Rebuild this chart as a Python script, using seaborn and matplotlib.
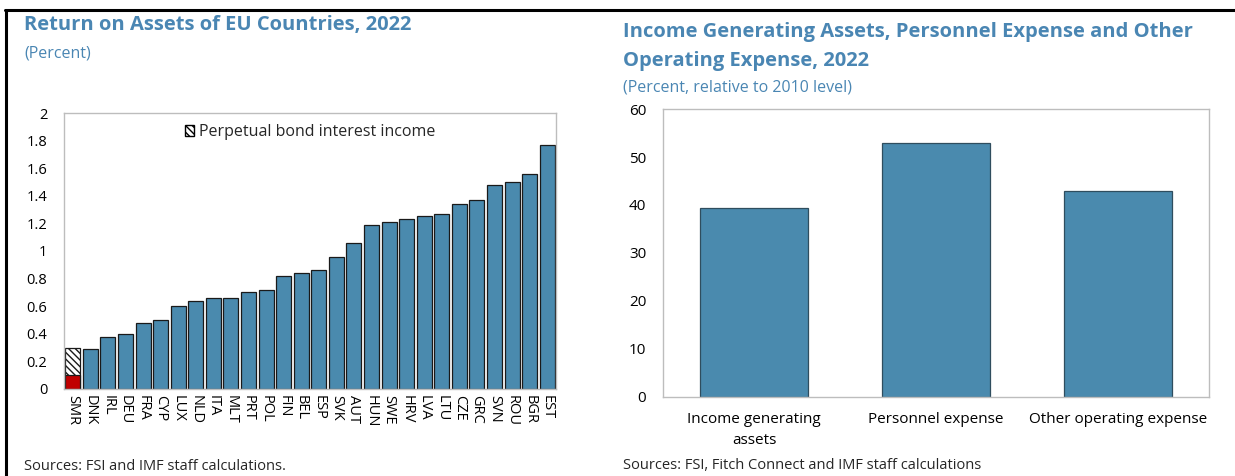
import numpy as np
import pandas as pd
import matplotlib
matplotlib.use("Agg")
import matplotlib.pyplot as plt
from matplotlib.patches import Patch
from matplotlib.lines import Line2D
from matplotlib.ticker import FuncFormatter, FixedLocator
import seaborn as sns

# Left panel: return on assets by country (percent)
countries = ["SMR", "DNK", "IRL", "DEU", "FRA", "CYP", "LUX", "NLD", "ITA", "MLT",
             "PRT", "POL", "FIN", "BEL", "ESP", "SVK", "AUT", "HUN", "SWE", "HRV",
             "LVA", "LTU", "CZE", "GRC", "SVN", "ROU", "BGR", "EST"]
roa = [0.30, 0.29, 0.38, 0.40, 0.48, 0.50, 0.60, 0.64, 0.66, 0.66,
       0.70, 0.72, 0.82, 0.84, 0.86, 0.96, 1.06, 1.19, 1.21, 1.23,
       1.25, 1.27, 1.34, 1.37, 1.48, 1.50, 1.56, 1.77]
smr_core = [0.10]          # SMR ROA without perpetual bond interest income
# Right panel: growth relative to 2010 (percent)
items = ["Income generating\nassets", "Personnel expense", "Other operating expense"]
growth = [39.3, 53.0, 43.0]

BLUE = "#4a8aae"
TITLE = "#4a86b3"
RED = "#c00000"
SPINE = "#bdbdbd"
HATCH = "\\\\\\\\\\"

sns.set_theme(style="white")
plt.rcParams["font.family"] = ["Open Sans", "DejaVu Sans"]
plt.rcParams["hatch.linewidth"] = 1.0

fig = plt.figure(figsize=(12.35, 4.76), dpi=100)
ax1 = fig.add_axes([0.0518, 0.1828, 0.3984, 0.5798])
ax2 = fig.add_axes([0.5368, 0.166, 0.4421, 0.605])

# --- left chart
df = pd.DataFrame({"country": countries, "roa": roa})
colors = ["white"] + [BLUE] * (len(countries) - 1)
sns.barplot(data=df, x="country", y="roa", hue="country", palette=colors,
            order=countries, width=0.85, edgecolor="#1a1a1a", linewidth=0.9,
            legend=False, ax=ax1)
ax1.patches[0].set_hatch(HATCH)
core = pd.DataFrame({"country": countries[:1], "roa": smr_core})
sns.barplot(data=core, x="country", y="roa", order=countries, color=RED,
            saturation=1, width=0.85, edgecolor="#1a1a1a", linewidth=0.9, ax=ax1)
for p in ax1.patches[1:len(countries)]:
    p.set_facecolor(BLUE)

ax1.set_xlim(-0.5, len(countries) - 0.5)
ax1.set_ylim(0, 2)
ax1.set_yticks(np.arange(0, 2.01, 0.2))
ax1.yaxis.set_major_formatter(FuncFormatter(lambda v, _: f"{v:g}"))
ax1.set_xticks(range(len(countries)))
ax1.set_xticklabels(countries, rotation=270, fontsize=10.5)
ax1.set_xlabel("")
ax1.set_ylabel("")
ax1.legend(handles=[Patch(facecolor="white", edgecolor="black", hatch=HATCH,
                          label="Perpetual bond interest income")],
           loc="upper center", frameon=False, fontsize=11.5, handlelength=0.6,
           handleheight=0.6, handletextpad=0.3, borderaxespad=0.3)

# --- right chart
df2 = pd.DataFrame({"item": items, "growth": growth})
sns.barplot(data=df2, x="item", y="growth", color=BLUE, saturation=1, width=0.59,
            edgecolor="#2f4d5e", linewidth=0.9, ax=ax2)
ax2.set_xlim(-0.5, 2.5)
ax2.set_ylim(0, 60)
ax2.set_yticks(range(0, 61, 10))
ax2.set_xlabel("")
ax2.set_ylabel("")

for ax in (ax1, ax2):
    for s in ax.spines.values():
        s.set_visible(True)
        s.set_color(SPINE)
        s.set_linewidth(1.0)
    ax.tick_params(axis="y", direction="in", length=3, color=SPINE, labelsize=10.5,
                   pad=12, labelcolor="black")
    ax.tick_params(axis="x", which="major", length=0, labelcolor="black")
    n = len(ax.get_xticks())
    ax.xaxis.set_minor_locator(FixedLocator(np.arange(0.5, n - 0.5, 1)))
    ax.tick_params(axis="x", which="minor", direction="in", length=4, color=SPINE)
ax1.tick_params(axis="x", pad=4)
ax2.tick_params(axis="x", labelsize=11, pad=11)
ax2.tick_params(axis="y", labelsize=11)
for t in ax2.get_xticklabels():
    t.set_linespacing(1.5)

# --- titles and notes
fig.text(0.0194, 0.948, "Return on Assets of EU Countries, 2022", color=TITLE,
         fontsize=14.5, fontweight="bold", va="center")
fig.text(0.0194, 0.888, "(Percent)", color=TITLE, fontsize=11.5, va="center")
fig.text(0.0194, 0.019, "Sources: FSI and IMF staff calculations.", fontsize=10.5,
         va="center")
fig.text(0.5045, 0.933, "Income Generating Assets, Personnel Expense and Other",
         color=TITLE, fontsize=14.5, fontweight="bold", va="center")
fig.text(0.5045, 0.872, "Operating Expense, 2022", color=TITLE, fontsize=14.5,
         fontweight="bold", va="center")
fig.text(0.5045, 0.817, "(Percent, relative to 2010 level)", color=TITLE,
         fontsize=11.5, va="center")
fig.text(0.5045, 0.023, "Sources: FSI, Fitch Connect and IMF staff calculations",
         fontsize=10.5, va="center")

# frame lines of the panel
fig.add_artist(Line2D([0.004, 1.0], [0.978, 0.978], color="black", lw=2.2))
fig.add_artist(Line2D([0.005, 0.005], [0.0, 0.978], color="black", lw=2.2))

fig.savefig("out.png", dpi=100)
